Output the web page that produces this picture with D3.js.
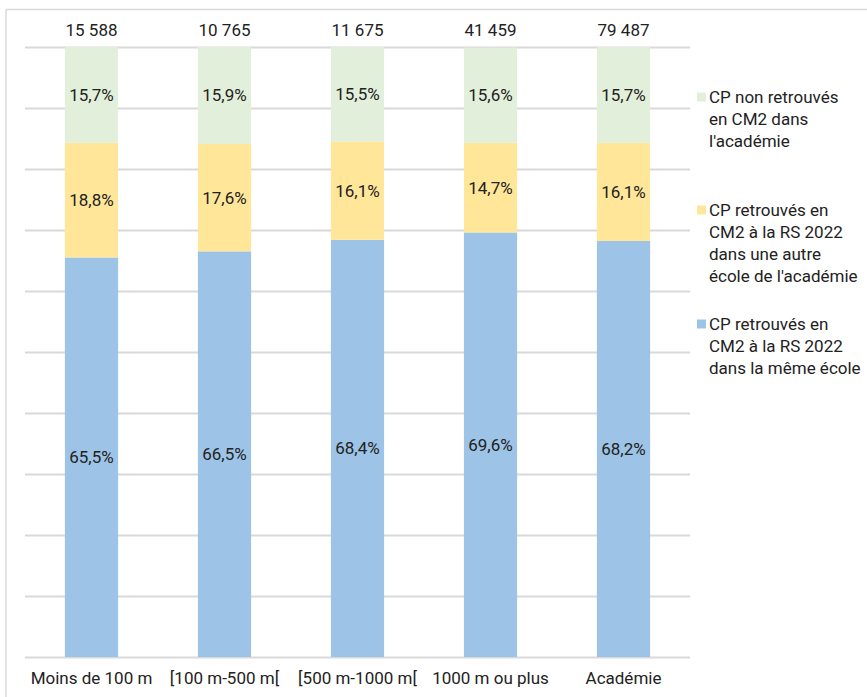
<!DOCTYPE html>
<html>
<head>
<meta charset="utf-8">
<script src="https://cdn.jsdelivr.net/npm/d3@7"></script>
<style>
  body { margin: 0; background: #fff; }
  svg { display: block; font-family: Roboto, "Liberation Sans", sans-serif; }
</style>
</head>
<body>
<svg id="chart" width="867" height="697"></svg>
<script>
// data
const categories = ['Moins de 100 m', '[100 m-500 m[', '[500 m-1000 m[', '1000 m ou plus', 'Académie'];
const totals = ['15 588', '10 765', '11 675', '41 459', '79 487'];
const memeEcole = [65.5, 66.5, 68.4, 69.6, 68.2];
const autreEcole = [18.8, 17.6, 16.1, 14.7, 16.1];
const nonRetrouves = [15.7, 15.9, 15.5, 15.6, 15.7];
const yTicks = [0, 10, 20, 30, 40, 50, 60, 70, 80, 90, 100];

const series = [
    { key: 'meme', values: memeEcole, color: '#9dc3e6',
      legend: ['CP retrouvés en', 'CM2 à la RS 2022', 'dans la même école'] },
    { key: 'autre', values: autreEcole, color: '#ffe699',
      legend: ['CP retrouvés en', 'CM2 à la RS 2022', 'dans une autre', "école de l'académie"] },
    { key: 'non', values: nonRetrouves, color: '#e2efda',
      legend: ['CP non retrouvés', 'en CM2 dans', "l'académie"] }
];

const svg = d3.select('#chart');
const margin = { top: 47, left: 25, right: 177, bottom: 40 };
const width = 867, height = 697;
const innerW = width - margin.left - margin.right;
const innerH = height - margin.top - margin.bottom;
const textColor = '#222';
const fontSize = 17;
const fmt = v => d3.format('.1f')(v).replace('.', ',') + '%';

// outer frame (only top and left edges are visible)
svg.append('line').attr('x1', 6).attr('x2', width).attr('y1', 9.5).attr('y2', 9.5)
    .attr('stroke', '#d9d9d9').attr('stroke-width', 1.5);
svg.append('line').attr('x1', 6).attr('x2', 6).attr('y1', 9.5).attr('y2', height)
    .attr('stroke', '#d9d9d9').attr('stroke-width', 1.5);

const g = svg.append('g').attr('transform', `translate(${margin.left},${margin.top})`);

const x = d3.scaleBand().domain(categories).range([0, innerW]).paddingInner(0.6).paddingOuter(0.3);
const y = d3.scaleLinear().domain([0, 100]).range([innerH, 0]);

// gridlines
g.append('g')
    .call(d3.axisLeft(y).tickValues(yTicks).tickSize(-innerW).tickFormat(''))
    .call(a => a.select('.domain').remove())
    .call(a => a.selectAll('line').attr('stroke', '#d9d9d9').attr('stroke-width', 2));

// stacked bars
const rows = categories.map((c, i) => {
    const r = { cat: c };
    series.forEach(s => { r[s.key] = s.values[i]; });
    return r;
});
const stack = d3.stack().keys(series.map(s => s.key))(rows);

stack.forEach((layer, li) => {
    const s = series[li];
    const lg = g.append('g');
    lg.selectAll('rect')
        .data(layer)
        .enter()
        .append('rect')
        .attr('x', d => x(d.data.cat))
        .attr('width', x.bandwidth())
        .attr('y', d => y(d[1]))
        .attr('height', d => y(d[0]) - y(d[1]))
        .attr('fill', s.color);
    lg.selectAll('text')
        .data(layer)
        .enter()
        .append('text')
        .attr('x', d => x(d.data.cat) + x.bandwidth() / 2)
        .attr('y', d => y((d[0] + d[1]) / 2))
        .attr('dy', '0.35em')
        .attr('text-anchor', 'middle')
        .attr('font-size', fontSize)
        .attr('fill', textColor)
        .text(d => fmt(d.data[s.key]));
});

// totals above the bars
g.selectAll('.total')
    .data(categories)
    .enter()
    .append('text')
    .attr('class', 'total')
    .attr('x', d => x(d) + x.bandwidth() / 2)
    .attr('y', -11)
    .attr('text-anchor', 'middle')
    .attr('font-size', fontSize)
    .attr('fill', textColor)
    .text((d, i) => totals[i]);

// category axis
g.append('g')
    .attr('transform', `translate(0,${innerH})`)
    .call(d3.axisBottom(x).tickSize(0).tickPadding(15))
    .call(a => a.select('.domain').remove())
    .call(a => a.selectAll('text')
        .attr('font-size', fontSize)
        .attr('font-family', 'Roboto, sans-serif')
        .attr('fill', textColor));

// legend
const legendTop = [97, 210, 324];
const legendOrder = [2, 1, 0];
legendOrder.forEach((si, k) => {
    const s = series[si];
    const lg = svg.append('g').attr('transform', `translate(697,${legendTop[k]})`);
    lg.append('rect').attr('x', 0).attr('y', -4.5).attr('width', 9).attr('height', 9).attr('fill', s.color);
    lg.selectAll('text')
        .data(s.legend)
        .enter()
        .append('text')
        .attr('x', 12)
        .attr('y', (d, i) => i * 22)
        .attr('dy', '0.35em')
        .attr('font-size', fontSize)
        .attr('fill', textColor)
        .text(d => d);
});
</script>
</body>
</html>
